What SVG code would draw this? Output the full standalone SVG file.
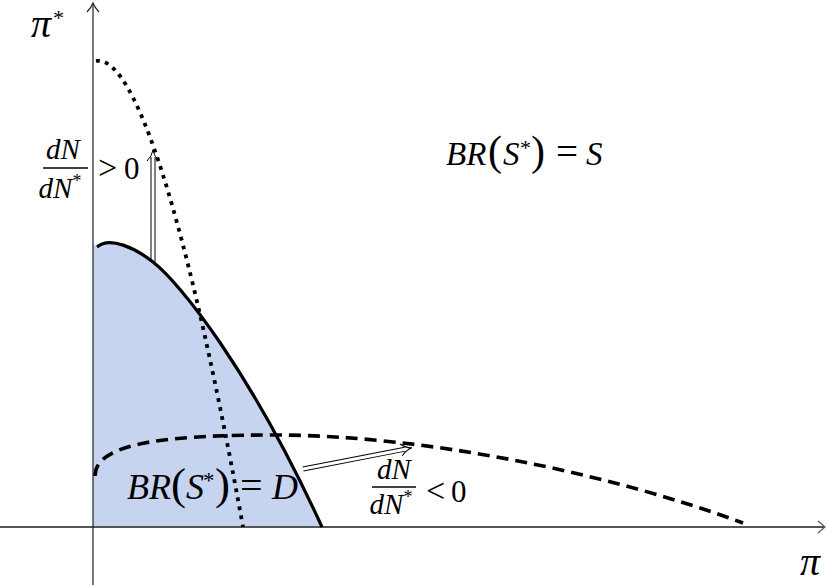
<svg xmlns="http://www.w3.org/2000/svg" width="826" height="585" viewBox="0 0 826 585">
<style>
.t{font-family:"Liberation Serif","Times New Roman",serif;fill:#000}
.i{font-style:italic}
.p{font-style:normal}
.curve{fill:none;stroke:#000}
.dbl{fill:none;stroke:#000;stroke-width:1}
</style>
<rect width="826" height="585" fill="#fff"/>
<g id="region-D">
<path d="M 93 243 L 97 247 C 110 236, 135 248, 153 262 C 180 283, 250 370, 322 527 L 93 527 Z" fill="#c6d4f0"/>
</g>
<g id="axes">
<line x1="0" y1="527" x2="824" y2="527" stroke="#555" stroke-width="2"/>
<path d="M 818 521 L 825 527 L 818 533" fill="none" stroke="#555" stroke-width="1.2"/>
<line x1="93" y1="4" x2="93" y2="585" stroke="#222" stroke-width="1.2"/>
<path d="M 87 12 Q 91 8 93 3 Q 95 8 99 12" fill="none" stroke="#222" stroke-width="1.2"/>
</g>
<g id="curve-D">
<path class="curve" d="M 97 247 C 110 236, 135 248, 153 262 C 180 283, 250 370, 322 527" stroke-width="3.2"/>
</g>
<g id="curve-dotted">
<path class="curve" d="M 96 61 C 130 55, 180 180, 243 527" stroke-width="3.8" stroke-dasharray="3.8 5.4"/>
</g>
<g id="curve-dashed">
<path class="curve" d="M 95 476 C 95 440, 180 435, 280 435 C 420 436, 600 470, 743 523" stroke-width="3.6" stroke-dasharray="12 7"/>
</g>
<g id="connectors">
<g transform="translate(153,262) rotate(-90)">
<line class="dbl" x1="0" y1="-2" x2="105" y2="-2"/>
<line class="dbl" x1="0" y1="2" x2="105" y2="2"/>
<path class="dbl" d="M 101 -6 Q 106 -1 112 0 Q 106 1 101 6"/>
</g>
<g transform="translate(303,469) rotate(-11)">
<line class="dbl" x1="0" y1="-2" x2="104" y2="-2"/>
<line class="dbl" x1="0" y1="2" x2="104" y2="2"/>
<path class="dbl" d="M 100 -6 Q 105 -1 111 0 Q 105 1 100 6"/>
</g>
</g>
<g id="label-pistar">
<text class="t i" x="31" y="37" font-size="40">π</text>
<text class="t" x="53" y="25" font-size="22">*</text>
</g>
<g id="label-pi">
<text class="t i" x="800" y="575" font-size="40">π</text>
</g>
<g id="label-dNpos">
<text class="t i" x="63" y="159" font-size="29" text-anchor="middle">dN</text>
<line x1="43" y1="168" x2="88" y2="168" stroke="#000" stroke-width="1.3"/>
<text class="t i" x="60" y="198" font-size="29" text-anchor="middle">dN<tspan class="p" font-size="18" dy="-11">*</tspan></text>
<text class="t" y="179" font-size="31"><tspan x="98" font-size="34">&gt;</tspan><tspan x="124">0</tspan></text>
</g>
<g id="label-dNneg">
<text class="t i" x="394" y="479" font-size="29" text-anchor="middle">dN</text>
<line x1="372" y1="487" x2="416" y2="487" stroke="#000" stroke-width="1.3"/>
<text class="t i" x="391" y="514" font-size="29" text-anchor="middle">dN<tspan class="p" font-size="18" dy="-11">*</tspan></text>
<text class="t" y="502" font-size="31"><tspan x="426" font-size="34">&lt;</tspan><tspan x="451">0</tspan></text>
</g>
<g id="label-S">
<text class="t" y="165" font-size="33"><tspan class="i" x="446">BR</tspan><tspan class="p" x="488" font-size="42">(</tspan><tspan class="i" x="503">S</tspan><tspan class="p" x="520" y="155" font-size="22">*</tspan><tspan class="p" x="531" y="165" font-size="42">)</tspan><tspan class="p" x="556" font-size="39">=</tspan><tspan class="i" x="586">S</tspan></text>
</g>
<g id="label-D">
<text class="t" y="499" font-size="36"><tspan class="i" x="127">BR</tspan><tspan class="p" x="171" font-size="45">(</tspan><tspan class="i" x="186">S</tspan><tspan class="p" x="203" y="488" font-size="23">*</tspan><tspan class="p" x="215" y="499" font-size="45">)</tspan><tspan class="p" x="240" font-size="40">=</tspan><tspan class="i" x="272">D</tspan></text>
</g>
</svg>
